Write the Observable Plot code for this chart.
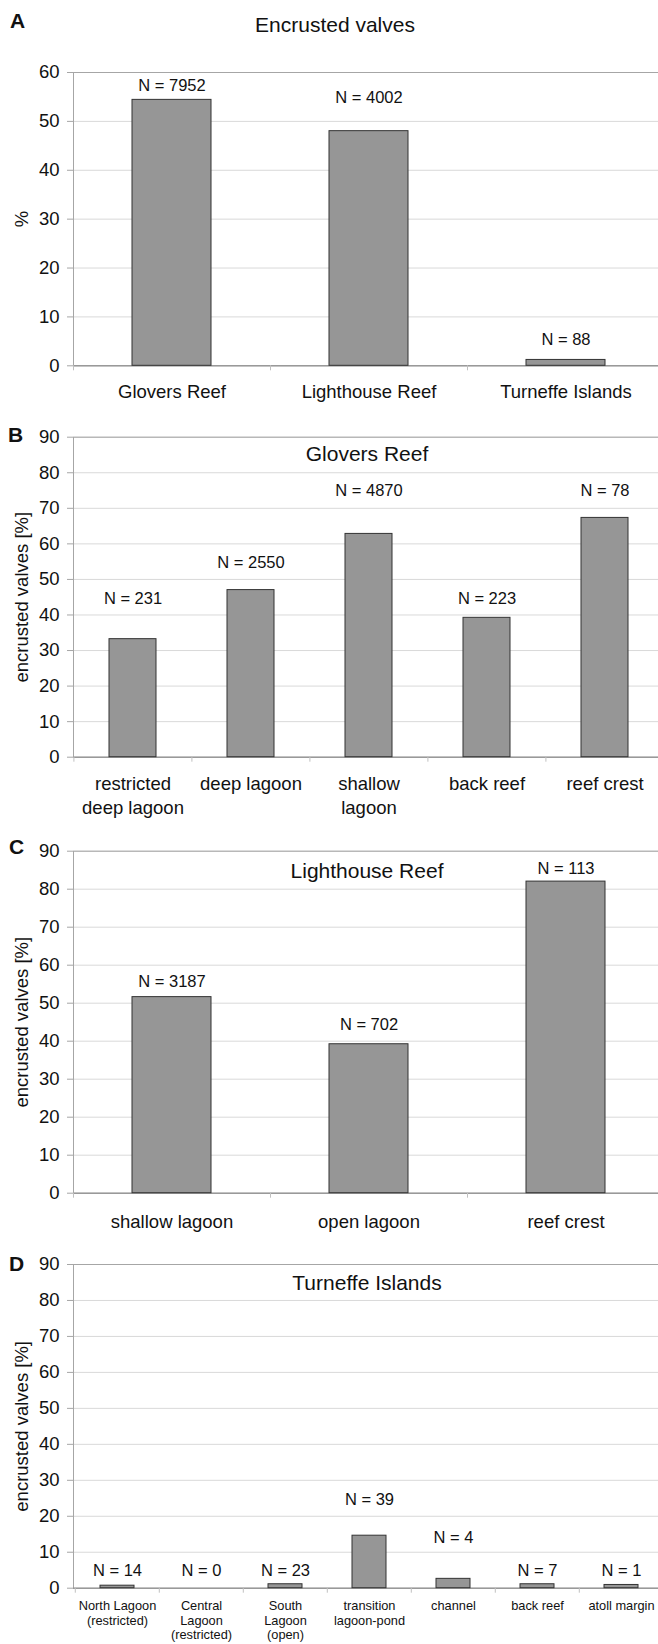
<!DOCTYPE html>
<html><head><meta charset="utf-8">
<script src="https://cdn.jsdelivr.net/npm/d3@7"></script>
<script src="https://cdn.jsdelivr.net/npm/@observablehq/plot@0.6"></script>
<style>
html,body{margin:0;padding:0;background:#fff;overflow:hidden;}
#root{width:658px;height:1644px;overflow:hidden;background:#fff;}
#root svg{display:block;max-width:none !important;}
</style></head><body><div id="root"></div>
<script>
const FONT = '"Liberation Sans", Arial, Helvetica, sans-serif';

// Panel A – all atolls
const sitesA = ["Glovers Reef", "Lighthouse Reef", "Turneffe Islands"];
const valuesA = [54.4, 48.0, 1.2];
const nA = [7952, 4002, 88];
const nLabelAtA = [57.2, 54.9, 5.4];

// Panel B – Glovers Reef
const zonesB = ["restricted\ndeep lagoon", "deep lagoon", "shallow\nlagoon", "back reef", "reef crest"];
const valuesB = [33.2, 47.0, 62.8, 39.2, 67.3];
const nB = [231, 2550, 4870, 223, 78];
const nLabelAtB = [44.5, 54.7, 74.9, 44.5, 74.9];

// Panel C – Lighthouse Reef
const zonesC = ["shallow lagoon", "open lagoon", "reef crest"];
const valuesC = [51.6, 39.2, 82.0];
const nC = [3187, 702, 113];
const nLabelAtC = [55.7, 44.4, 85.4];

// Panel D – Turneffe Islands
const zonesD = ["North Lagoon\n(restricted)", "Central\nLagoon\n(restricted)", "South\nLagoon\n(open)", "transition\nlagoon-pond", "channel", "back reef", "atoll margin"];
const valuesD = [0.7, 0, 1.1, 14.6, 2.6, 1.1, 0.9];
const nD = [14, 0, 23, 39, 4, 7, 1];
const nLabelAtD = [4.9, 4.9, 4.9, 24.6, 13.9, 4.9, 4.9];

const ticks60 = [0, 10, 20, 30, 40, 50, 60];
const ticks90 = [0, 10, 20, 30, 40, 50, 60, 70, 80, 90];

function panel(cfg) {
  const W = 666, ML = 73, MR = 2;
  const rows = cfg.cats.map((c, i) => ({cat: c, value: cfg.values[i], n: cfg.ns[i], at: cfg.at[i]}));
  const step = (W - ML - MR) / cfg.cats.length;
  return Plot.plot({
    width: W, height: cfg.height,
    marginLeft: ML, marginRight: MR, marginTop: cfg.mt, marginBottom: cfg.mb,
    style: {fontFamily: FONT, background: "#fff", color: "#111", overflow: "hidden", maxWidth: "none"},
    x: {domain: cfg.cats, paddingInner: 0.6, paddingOuter: 0.3},
    y: {domain: [0, cfg.ticks[cfg.ticks.length - 1]]},
    marks: [
      Plot.gridY(cfg.ticks, {stroke: "#d9d9d9", strokeOpacity: 1}),
      Plot.frame({stroke: "#a6a6a6"}),
      Plot.ruleY([0], {stroke: "#8c8c8c"}),
      Plot.axisY(cfg.ticks, {tickSize: 6, tickPadding: 8, fontSize: 18.5, stroke: "#a6a6a6", fill: "#111", label: null}),
      Plot.axisX({tickSize: 5, dx: -step / 2, stroke: "#c0c0c0", fill: "none", label: null}),
      Plot.barY(rows.filter(d => d.value > 0), {x: "cat", y: "value", fill: "#969696", stroke: "#333", strokeWidth: 1}),
      Plot.text(rows, {x: "cat", y: "at", text: d => `N = ${d.n}`, fontSize: 16.5}),
      Plot.text(rows, {x: "cat", text: "cat", frameAnchor: "bottom", textAnchor: "middle", lineAnchor: cfg.xla, dy: cfg.xdy, fontSize: cfg.xfs, lineHeight: cfg.xlh}),
      Plot.text([cfg.title], {text: d => d, frameAnchor: "top", textAnchor: "middle", lineAnchor: "middle", dx: cfg.tdx, dy: cfg.tdy, fontSize: 21}),
      Plot.text([cfg.letter], {text: d => d, frameAnchor: "top-left", textAnchor: "middle", lineAnchor: "middle", dx: cfg.ldx, dy: cfg.ldy, fontSize: 21, fontWeight: "bold"}),
      Plot.text([cfg.ylabel], {text: d => d, frameAnchor: "left", textAnchor: "middle", lineAnchor: "middle", dx: -51, rotate: -90, fontSize: 18.5})
    ]
  });
}

const root = document.getElementById("root");
root.append(panel({
  cats: sitesA, values: valuesA, ns: nA, at: nLabelAtA, ticks: ticks60,
  height: 410, mt: 72, mb: 44.7,
  title: "Encrusted valves", tdx: -34, tdy: -47,
  letter: "A", ldx: -56, ldy: -51,
  ylabel: "%",
  xla: "middle", xdy: 26.4, xfs: 18.5, xlh: 1
}));
root.append(panel({
  cats: zonesB, values: valuesB, ns: nB, at: nLabelAtB, ticks: ticks90,
  height: 412, mt: 26.7, mb: 65.3,
  title: "Glovers Reef", tdx: -2, tdy: 17.3,
  letter: "B", ldx: -58, ldy: -1.7,
  ylabel: "encrusted valves [%]",
  xla: "top", xdy: 16.6, xfs: 18.5, xlh: 1.265
}));
root.append(panel({
  cats: zonesC, values: valuesC, ns: nC, at: nLabelAtC, ticks: ticks90,
  height: 418, mt: 28.7, mb: 47.3,
  title: "Lighthouse Reef", tdx: -2, tdy: 20,
  letter: "C", ldx: -57, ldy: -4,
  ylabel: "encrusted valves [%]",
  xla: "middle", xdy: 29.3, xfs: 18.5, xlh: 1
}));
root.append(panel({
  cats: zonesD, values: valuesD, ns: nD, at: nLabelAtD, ticks: ticks90,
  height: 404, mt: 24, mb: 56.3,
  title: "Turneffe Islands", tdx: -2, tdy: 18.3,
  letter: "D", ldx: -57, ldy: -0.7,
  ylabel: "encrusted valves [%]",
  xla: "top", xdy: 11.5, xfs: 12.8, xlh: 1.14
}));
</script></body></html>
